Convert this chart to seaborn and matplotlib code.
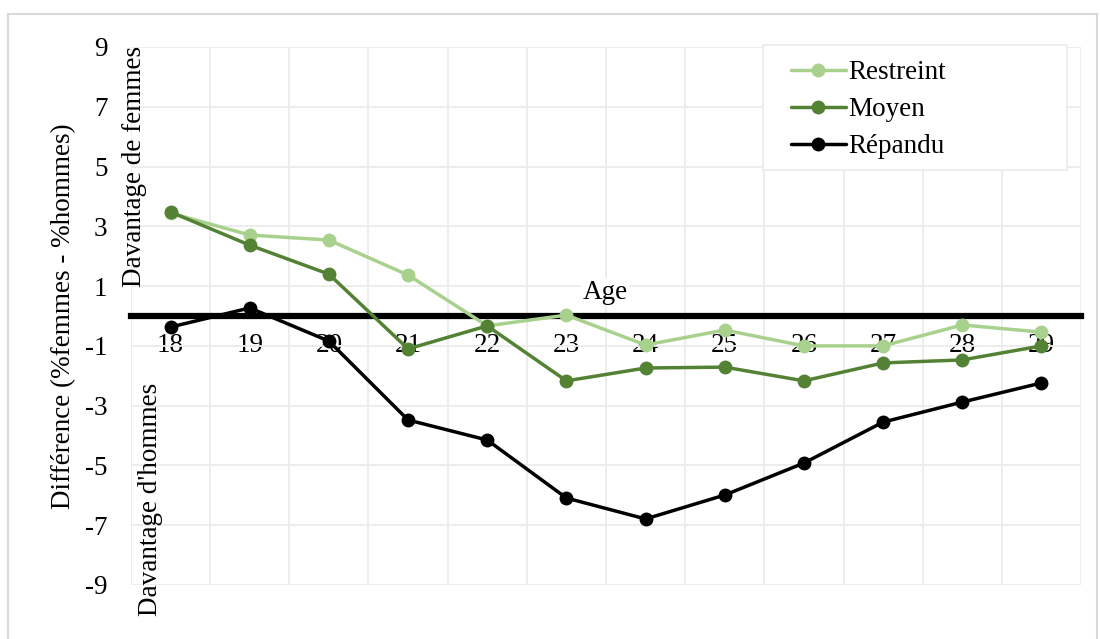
import numpy as np
import pandas as pd
import matplotlib
matplotlib.use("Agg")
import matplotlib.pyplot as plt
from matplotlib.patches import Rectangle
import seaborn as sns

# data
ages = [18, 19, 20, 21, 22, 23, 24, 25, 26, 27, 28, 29]
restreint = [3.44, 2.71, 2.54, 1.37, -0.33, 0.03, -0.97, -0.47, -1.0, -1.0, -0.3, -0.54]
moyen = [3.48, 2.37, 1.40, -1.10, -0.33, -2.17, -1.74, -1.71, -2.17, -1.57, -1.47, -1.0]
repandu = [-0.37, 0.27, -0.84, -3.48, -4.15, -6.09, -6.79, -5.99, -4.92, -3.55, -2.88, -2.24]
series_names = ["Restreint", "Moyen", "Répandu"]
colors = ["#a9d18e", "#548235", "#000000"]
y_ticks = [-9, -7, -5, -3, -1, 1, 3, 5, 7, 9]

df = pd.DataFrame({
    "pos": list(range(len(ages))) * 3,
    "val": restreint + moyen + repandu,
    "serie": sum([[n] * len(ages) for n in series_names], []),
})

sns.set_theme(style="white")
plt.rcParams["font.family"] = ["Liberation Serif", "DejaVu Serif"]
plt.rcParams["text.color"] = "black"
plt.rcParams["axes.labelcolor"] = "black"
plt.rcParams["xtick.color"] = "black"
plt.rcParams["ytick.color"] = "black"

FS = 19.5

fig = plt.figure(figsize=(11, 6.39), dpi=100)
ax = fig.add_axes([131 / 1100, 54 / 639, 950 / 1100, 538 / 639])

# outer frame of the chart area
fig.patches.append(Rectangle((8 / 1100, -0.05), 1089 / 1100, (639 - 14) / 639 + 0.05,
                             transform=fig.transFigure, fill=False,
                             edgecolor="#d9d9d9", linewidth=1.5, zorder=0))

sns.lineplot(data=df, x="pos", y="val", hue="serie", hue_order=series_names,
             palette=colors, marker="o", markersize=10, markeredgewidth=0,
             linewidth=2.5, ax=ax, legend=True, zorder=4)

ax.set_xlim(-0.5, len(ages) - 0.5)
ax.set_ylim(-9, 9)
ax.set_yticks(y_ticks)
ax.set_yticklabels([str(t) for t in y_ticks])
ax.set_xticks(range(len(ages)))
ax.set_xticklabels([str(a) for a in ages])
ax.set_xticks(np.arange(-0.5, len(ages)), minor=True)

ax.grid(False)
ax.grid(which="minor", axis="x", color="#ececec", linewidth=1.3, zorder=0)
ax.grid(which="major", axis="y", color="#ececec", linewidth=1.3, zorder=0)

for s in ["top", "right", "left"]:
    ax.spines[s].set_visible(False)
ax.spines["bottom"].set_position(("data", 0))
ax.spines["bottom"].set_linewidth(4.5)
ax.spines["bottom"].set_color("black")
ax.spines["bottom"].set_zorder(3)

ax.tick_params(axis="x", which="both", length=0, pad=12, labelsize=FS)
ax.tick_params(axis="y", length=0, pad=17, labelsize=FS)

ax.set_xlabel("")
ax.set_ylabel("Différence (%femmes - %hommes)", fontsize=FS, labelpad=6)

ax.text(5.49, 0.8, "Age", fontsize=FS, ha="center", va="center", zorder=5,
        bbox=dict(facecolor="white", edgecolor="none", pad=1))
ax.text(-0.45, 5.0, "Davantage de femmes", fontsize=FS, rotation=90,
        ha="center", va="center", zorder=5)
ax.text(-0.25, -6.15, "Davantage d'hommes", fontsize=FS, rotation=90,
        ha="center", va="center", zorder=5)

# legend box as in the reference (wide white panel)
ax.add_patch(Rectangle((0.665, 0.771), 0.32, 0.233, transform=ax.transAxes,
                       facecolor="white", edgecolor="#ececec", linewidth=1.3,
                       zorder=6, clip_on=False))
handles, labels = ax.get_legend_handles_labels()
leg = ax.legend(handles, labels, loc="upper left", bbox_to_anchor=(0.678, 1.006),
                frameon=False, fontsize=FS, handlelength=2.0, handletextpad=0.1,
                labelspacing=0.45, borderaxespad=0.2)
leg.set_zorder(7)

fig.savefig("out.png", dpi=100)
